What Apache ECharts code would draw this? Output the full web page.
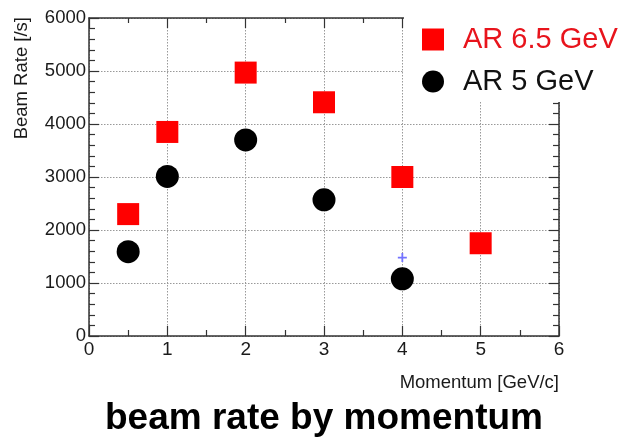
<!DOCTYPE html>
<html>
<head>
<meta charset="utf-8">
<script src="https://cdn.jsdelivr.net/npm/echarts@6/dist/echarts.min.js"></script>
<style>html,body{margin:0;padding:0;background:#fff;}#c{width:626px;height:438px;}</style>
</head>
<body>
<div id="c"></div>
<script>
const momentumAR65 = [0.5, 1, 2, 3, 4, 5];
const rateAR65 = [2300, 3850, 4970, 4410, 3000, 1750];
const momentumAR5 = [0.5, 1, 2, 3, 4];
const rateAR5 = [1590, 3010, 3700, 2570, 1080];
const extraPoint = [[4, 1480]];
const seriesNames = ['AR 6.5 GeV', 'AR 5 GeV'];
const titleText = 'beam rate by momentum';
const xName = 'Momentum [GeV/c]';
const yName = 'Beam Rate [/s]';

const chart = echarts.init(document.getElementById('c'), null, {renderer: 'canvas'});
const FONT = 'Liberation Sans, Arial, Helvetica, sans-serif';
const axisColor = '#333';
const gridLine = {show: true, lineStyle: {color: '#999', type: [1.5, 1.5], width: 1}};
const plain = v => String(v);

const option = {
  backgroundColor: '#fff',
  animation: false,
  title: {
    text: titleText, left: 100, top: 395,
    textStyle: {fontFamily: FONT, fontWeight: 'bold', fontSize: 37, color: '#000'}
  },
  grid: {left: 89, top: 18, width: 470, height: 318, containLabel: false},
  xAxis: [{
    type: 'value', min: 0, max: 6, interval: 1, position: 'bottom',
    name: xName, nameLocation: 'end', nameGap: 0,
    nameTextStyle: {fontFamily: FONT, fontSize: 18.5, color: '#1a1a1a', align: 'right', verticalAlign: 'top', padding: [37, 0, 0, 0]},
    axisLine: {show: true, onZero: false, lineStyle: {color: axisColor, width: 1.5}},
    axisTick: {show: true, inside: true, length: 10, lineStyle: {color: axisColor, width: 1.2}},
    minorTick: {show: true, splitNumber: 2, length: 6, lineStyle: {color: axisColor, width: 1.2}},
    axisLabel: {fontFamily: FONT, fontSize: 19, color: '#1a1a1a', margin: 4, formatter: plain},
    splitLine: gridLine
  }, {
    type: 'value', min: 0, max: 6, interval: 1, position: 'top',
    axisLine: {show: true, onZero: false, lineStyle: {color: axisColor, width: 1.5}},
    axisTick: {show: true, inside: true, length: 10, lineStyle: {color: axisColor, width: 1.2}},
    minorTick: {show: true, splitNumber: 2, length: 5, lineStyle: {color: axisColor, width: 1.2}},
    axisLabel: {show: false}, splitLine: {show: false}
  }],
  yAxis: [{
    type: 'value', min: 0, max: 6000, interval: 1000, position: 'left',
    axisLine: {show: true, onZero: false, lineStyle: {color: axisColor, width: 1.5}},
    axisTick: {show: true, inside: true, length: 10, lineStyle: {color: axisColor, width: 1.2}},
    minorTick: {show: true, splitNumber: 5, length: 6, lineStyle: {color: axisColor, width: 1.2}},
    axisLabel: {fontFamily: FONT, fontSize: 18.5, color: '#1a1a1a', margin: 3, formatter: plain},
    splitLine: gridLine
  }, {
    type: 'value', min: 0, max: 6000, interval: 1000, position: 'right',
    axisLine: {show: true, onZero: false, lineStyle: {color: axisColor, width: 1.5}},
    axisTick: {show: true, inside: true, length: 10, lineStyle: {color: axisColor, width: 1.2}},
    minorTick: {show: true, splitNumber: 5, length: 6, lineStyle: {color: axisColor, width: 1.2}},
    axisLabel: {show: false}, splitLine: {show: false}
  }],
  legend: {
    orient: 'vertical', left: 417, top: 20, itemGap: 13, itemWidth: 22, itemHeight: 22,
    z: 200, selectedMode: false,
    textStyle: {fontFamily: FONT, fontSize: 29, padding: [0, 0, 0, 14]},
    data: [
      {name: seriesNames[0], icon: 'rect', textStyle: {color: '#e8141c'}},
      {name: seriesNames[1], icon: 'circle', textStyle: {color: '#111'}}
    ]
  },
  graphic: [
    {type: 'rect', z: 100, shape: {x: 404, y: 0, width: 222, height: 102}, style: {fill: '#fff'}},
    {type: 'text', z: 100, x: 22, y: 17, rotation: Math.PI / 2,
      style: {text: yName, fontFamily: FONT, fontSize: 18.5, fill: '#1a1a1a', align: 'right', verticalAlign: 'middle'}}
  ],
  series: [{
    name: seriesNames[0], type: 'scatter', symbol: 'rect', symbolSize: 22,
    itemStyle: {color: '#ff0000', opacity: 1},
    data: momentumAR65.map((m, i) => [m, rateAR65[i]])
  }, {
    name: seriesNames[1], type: 'scatter', symbol: 'circle', symbolSize: 23,
    itemStyle: {color: '#000', opacity: 1},
    data: momentumAR5.map((m, i) => [m, rateAR5[i]])
  }, {
    name: 'marker', type: 'scatter',
    symbol: 'path://M4,0L6,0L6,4L10,4L10,6L6,6L6,10L4,10L4,6L0,6L0,4L4,4Z',
    symbolSize: 9, itemStyle: {color: '#7373ff', opacity: 1},
    data: extraPoint
  }]
};
chart.setOption(option);
</script>
</body>
</html>
